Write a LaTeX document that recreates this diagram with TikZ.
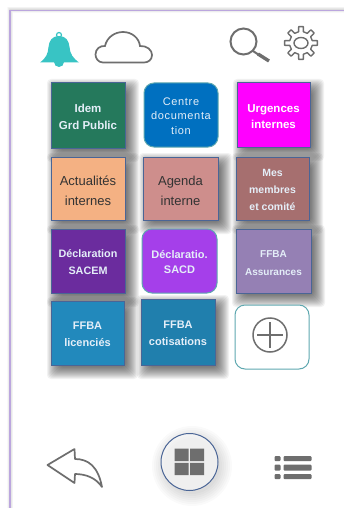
\documentclass[tikz,border=0pt]{standalone}
\usepackage{fontspec}
\setmainfont{Liberation Sans}
\definecolor{edgeblue}{HTML}{4A6596}
\definecolor{iconGray}{HTML}{6E6E6E}
\definecolor{frameLilac}{HTML}{BBA6DE}
\definecolor{tealEdge}{HTML}{5FA8B0}
\definecolor{bellTeal}{HTML}{38C4C4}
\definecolor{cGreen}{HTML}{25795C}
\definecolor{cBlue}{HTML}{0070C0}
\definecolor{cMagenta}{HTML}{FF00FF}
\definecolor{cOrange}{HTML}{F4B183}
\definecolor{cRose}{HTML}{CE8E8C}
\definecolor{cBrown}{HTML}{A66F6F}
\definecolor{cPurple}{HTML}{6B2C9E}
\definecolor{cViolet}{HTML}{A53FEA}
\definecolor{cMauve}{HTML}{9580B4}
\definecolor{cSky}{HTML}{2289BC}
\definecolor{cSea}{HTML}{207FAD}
\definecolor{txtPale}{HTML}{E4EEF8}
\definecolor{txtDark}{HTML}{333333}
\def\tilekern{4pt}
\tikzset{
  tile/.style={draw=edgeblue,line width=1pt,inner sep=0pt,text=white,font=\fontsize{10.5}{17}\selectfont\bfseries},
  roundtile/.style={tile,rounded corners=10pt,draw=tealEdge},
  darktext/.style={text=txtDark,font=\fontsize{13}{19.5}\selectfont,execute at begin node={\def\tilekern{6pt}}},
  smalltext/.style={text=txtPale,font=\fontsize{10.5}{17}\selectfont\bfseries},
  icon/.style={draw=iconGray,line width=1.7pt,fill=none},
  solidicon/.style={fill=iconGray,draw=none}
}
\newcommand{\softshadow}[4]{%
  \foreach \s in {9,8,...,-3}{
    \fill[black,opacity=0.05,rounded corners=4pt]
      (#1+5-\s,#2+5-\s) rectangle (#3+5+\s,#4+5+\s);
  }}
\newcommand{\tilenode}[8]{%
  \node[tile,#7,fill=#6,minimum width={(#4-#2)*1pt},minimum height={(#5-#3)*1pt}] (#1) at ({(#2+#4)/2},{(#3+#5)/2}) {\vbox{\kern\tilekern\hbox{\begin{tabular}{@{}c@{}}#8\end{tabular}}}};}
\newcommand{\tilebox}[8]{%
  \softshadow{#2}{#3}{#4}{#5}
  \tilenode{#1}{#2}{#3}{#4}{#5}{#6}{#7}{#8}}
\begin{document}
\begin{tikzpicture}[x=1pt,y=-1pt]
\useasboundingbox (0,0) rectangle (343,508);
\fill[white] (0,0) rectangle (343,508);
\foreach \s in {6,5,...,1}{
  \draw[black,opacity=0.025,line width=\s pt] (10,520) -- (10,10) -- (350,10);
}
\draw[frameLilac,line width=1.3pt] (10,520) -- (10,10.5) -- (350,10.5);
% bell
\fill[bellTeal] (59,36) .. controls (52,36) and (49,41) .. (48.5,47) .. controls (48,54) and (46,58) .. (40,62.5) -- (79,62.5) .. controls (73,58) and (70,54) .. (69.5,47) .. controls (69,41) and (66,36) .. (59,36) -- cycle;
\fill[bellTeal] (54,62) arc[start angle=180,end angle=0,radius=5];
\draw[bellTeal,line width=1.2pt] (59,35) circle[radius=2.5];
% cloud
\draw[icon] (103,62.5) .. controls (98,62.5) and (95.5,58) .. (95.5,54.5) .. controls (95.5,49) and (100,45.5) .. (105,46) .. controls (107,37) and (115,32) .. (123,32) .. controls (132,32) and (139,38) .. (140,46) .. controls (147,45.5) and (152,50) .. (152,55) .. controls (152,60) and (148,62.5) .. (144,62.5) -- cycle;
% magnifier
\draw[icon,line width=2pt] (243.5,41.5) circle[radius=13];
\draw[iconGray,line width=2pt] (253,51) -- (259,55);
\draw[iconGray,line width=3.4pt] (258,54) -- (269,61);
% gear
\begin{scope}[shift={(301,43)}]
\draw[icon,line width=1.4pt,line join=round] (-12:11.5)
  \foreach \a in {0,45,...,315}{
    -- (\a-8:16.5) -- (\a+8:16.5) -- (\a+12:11.5) -- (\a+33:11.5)
  } -- cycle;
\draw[icon,line width=1.4pt] (0,0) ellipse[x radius=7,y radius=5.5];
\end{scope}
% tiles
\tilebox{idem}{51}{83}{125}{148}{cGreen}{text=txtPale,font=\fontsize{11.5}{17}\selectfont\bfseries}{Idem\\Grd Public}
\tilenode{centre}{144}{83}{218}{147}{cBlue}{roundtile,text=txtPale,font=\fontsize{11}{14.5}\selectfont\addfontfeature{LetterSpace=6}}{Centre\\documenta\\tion}
\tilebox{urgences}{237}{83}{310}{147}{cMagenta}{font=\fontsize{11.5}{16.5}\selectfont\bfseries}{Urgences\\internes}
\tilebox{actu}{51}{157}{125}{220}{cOrange}{darktext}{Actualités\\internes}
\tilebox{agenda}{143}{157}{218}{220}{cRose}{darktext}{Agenda\\interne}
\tilebox{membres}{236}{157}{309}{220}{cBrown}{smalltext}{Mes\\membres\\et comité}
\tilebox{sacem}{51}{229}{125}{293}{cPurple}{smalltext,font=\fontsize{10.8}{17}\selectfont\bfseries}{Déclaration\\SACEM}
\tilenode{sacd}{142}{229}{217}{293}{cViolet}{roundtile,smalltext,font=\fontsize{11}{15}\selectfont\bfseries}{Déclaratio.\\SACD}
\tilebox{assur}{236}{229}{311}{293}{cMauve}{smalltext,font=\fontsize{10}{18}\selectfont\bfseries}{FFBA\\Assurances}
\tilebox{lic}{51}{301}{124}{365}{cSky}{smalltext,font=\fontsize{11}{17}\selectfont\bfseries}{FFBA\\licenciés}
\tilebox{cot}{141}{299}{215}{365}{cSea}{smalltext,font=\fontsize{11}{17}\selectfont\bfseries}{FFBA\\cotisations}
\node[roundtile,fill=white,minimum width=74pt,minimum height=64pt] (add) at (272,337) {};
% plus icon
\draw[icon,line width=1.5pt] (270,335) circle[radius=17];
\draw[iconGray,line width=1.5pt] (257,335) -- (283,335) (270,322) -- (270,348);
% back arrow
\draw[icon,line join=round] (47.5,465) -- (74.5,449) -- (75,459) .. controls (88,459) and (98,466) .. (102,487) .. controls (96,478) and (86,474) .. (75,474) -- (74.5,483) -- cycle;
% home button
\foreach \s in {12,10,...,0}{
  \fill[black,opacity=0.02] (192,466) circle[radius=28+\s];
}
\node[circle,draw=edgeblue,fill=white,fill opacity=0.55,line width=1pt,minimum size=57pt,inner sep=0pt] (home) at (189.5,462) {};
\fill[solidicon] (174.5,448.5) rectangle (188.5,461.2) (190,448.5) rectangle (204,461.2) (174.5,462.8) rectangle (188.5,475) (190,462.8) rectangle (204,475);
% list icon
\fill[solidicon,rounded corners=1pt] (274.5,456) rectangle (280.5,461) (283.5,456) rectangle (311.5,461)
  (274.5,464.5) rectangle (280.5,470.5) (283.5,464.5) rectangle (311.5,470.5)
  (274.5,474) rectangle (280.5,479) (283.5,474) rectangle (311.5,479);
\end{tikzpicture}
\end{document}
